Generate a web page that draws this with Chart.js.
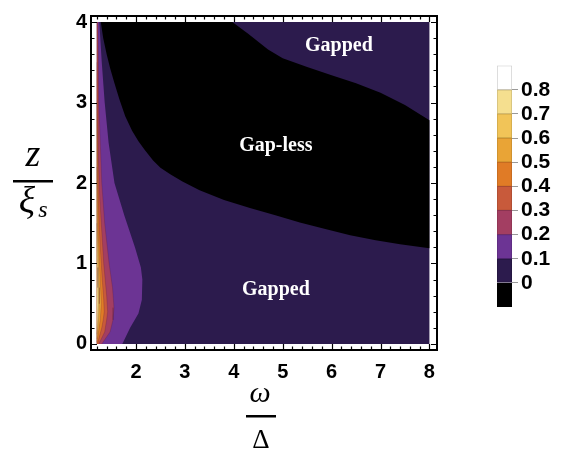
<!DOCTYPE html>
<html><head><meta charset="utf-8">
<script src="https://cdn.jsdelivr.net/npm/chart.js@4/dist/chart.umd.min.js"></script>
<style>
html,body{margin:0;padding:0;background:#fff;}
#wrap{position:relative;width:575px;height:455px;overflow:hidden;}
#main{position:absolute;left:0;top:0;}
#cbar{position:absolute;left:470px;top:50px;}
</style></head><body>
<div id="wrap"><canvas id="main" width="575" height="455"></canvas><canvas id="cbar" width="105" height="275"></canvas></div>
<script>
// ---- data ranges & ticks ----
const omegaRange = [1.2, 8];
const zRange = [0, 4];
const xTickLabels = [2, 3, 4, 5, 6, 7, 8];
const yTickLabels = [0, 1, 2, 3, 4];
const levelBounds = [-0.1, 0, 0.1, 0.2, 0.3, 0.4, 0.5, 0.6, 0.7, 0.8, 0.9];
const levelTicks = [0, 0.1, 0.2, 0.3, 0.4, 0.5, 0.6, 0.7, 0.8];
const levelTickLabels = ['0', '0.1', '0.2', '0.3', '0.4', '0.5', '0.6', '0.7', '0.8'];
const levelColors = ['#000000', '#2c1b4d', '#6c3494', '#a33e62', '#c85a3b', '#e07b26', '#e9a436', '#f1c458', '#f5df8f', '#ffffff'];
const levelEdge = ['#000000', '#23153d', '#5a2a7c', '#8a3350', '#a84a30', '#bd661f', '#c38a2c', '#c9a448', '#cbb978', '#cccccc'];

// ---- gap-less (value 0) region boundaries ----
const gaplessLowerW = [1.28, 1.33, 1.40, 1.47, 1.56, 1.66, 1.78, 1.92, 2.05, 2.18, 2.35, 2.50, 2.70, 2.95, 3.30, 3.80, 4.33, 4.85, 5.35, 5.85, 6.38, 6.90, 7.40, 8.00];
const gaplessLowerZ = [4.00, 3.80, 3.60, 3.43, 3.24, 3.04, 2.83, 2.65, 2.52, 2.41, 2.28, 2.19, 2.11, 2.02, 1.91, 1.79, 1.69, 1.60, 1.51, 1.43, 1.35, 1.29, 1.24, 1.19];
const gaplessUpperW = [3.97, 4.30, 4.70, 5.00, 5.50, 6.00, 6.50, 7.00, 7.50, 8.00];
const gaplessUpperZ = [4.00, 3.85, 3.66, 3.55, 3.44, 3.34, 3.24, 3.12, 2.97, 2.78];

// ---- contour curves on the left (outer edge of each level band) ----
const band01W = [1.25, 1.30, 1.36, 1.44, 1.56, 1.76, 1.98, 2.10, 2.13, 2.12, 2.05, 1.88, 1.72];
const band01Z = [4.00, 3.50, 3.00, 2.50, 2.00, 1.60, 1.20, 0.95, 0.80, 0.55, 0.38, 0.20, 0.00];
const band02W = [1.22, 1.24, 1.30, 1.36, 1.45, 1.52, 1.55, 1.53, 1.47, 1.30];
const band02Z = [4.00, 3.00, 2.00, 1.50, 1.00, 0.70, 0.45, 0.30, 0.15, 0.00];
const band03W = [1.21, 1.23, 1.26, 1.29, 1.34, 1.40, 1.42, 1.40, 1.36, 1.24];
const band03Z = [4.00, 2.30, 1.80, 1.50, 1.00, 0.60, 0.40, 0.30, 0.15, 0.00];
const band04W = [1.20, 1.22, 1.245, 1.27, 1.31, 1.34, 1.35, 1.33, 1.30, 1.21];
const band04Z = [3.50, 2.00, 1.50, 1.20, 0.80, 0.55, 0.40, 0.30, 0.20, 0.00];
const band05W = [1.20, 1.22, 1.24, 1.26, 1.28, 1.29, 1.27, 1.22, 1.20];
const band05Z = [3.00, 1.50, 1.20, 0.90, 0.65, 0.50, 0.30, 0.10, 0.02];
const band06W = [1.20, 1.215, 1.23, 1.245, 1.25, 1.235, 1.21, 1.20];
const band06Z = [2.20, 1.30, 1.00, 0.70, 0.50, 0.30, 0.15, 0.06];
const band07W = [1.20, 1.21, 1.22, 1.225, 1.215, 1.20];
const band07Z = [1.50, 0.95, 0.70, 0.50, 0.30, 0.12];

const annotationText = ['Gapped', 'Gap-less', 'Gapped'];
const annotationW = [6.15, 4.86, 4.86];
const annotationZ = [3.71, 2.46, 0.67];

// ---- build datasets ----
const pts = (w, z) => w.map((x, i) => ({x: x, y: z[i]}));
const datasets = [];
datasets.push({
  data: [{x: omegaRange[0], y: zRange[0]}, {x: omegaRange[1], y: zRange[0]}, {x: omegaRange[1], y: zRange[1]}, {x: omegaRange[0], y: zRange[1]}],
  showLine: true, fill: 'shape', backgroundColor: levelColors[1], borderWidth: 0, pointRadius: 0, order: 100
});
datasets.push({
  data: pts(gaplessLowerW, gaplessLowerZ).concat(pts(gaplessUpperW, gaplessUpperZ).reverse()),
  showLine: true, fill: 'shape', backgroundColor: levelColors[0], borderWidth: 0, pointRadius: 0, order: 90
});
const bands = [[band01W, band01Z], [band02W, band02Z], [band03W, band03Z], [band04W, band04Z], [band05W, band05Z], [band06W, band06Z], [band07W, band07Z]];
bands.forEach((b, k) => {
  const curve = pts(b[0], b[1]);
  const poly = curve.concat([{x: omegaRange[0], y: curve[curve.length - 1].y}, {x: omegaRange[0], y: curve[0].y}]);
  datasets.push({data: poly, showLine: true, fill: 'shape', backgroundColor: levelColors[k + 2], borderWidth: 0, pointRadius: 0, order: 80 - k});
  if (k > 0) datasets.push({data: curve, showLine: true, fill: false, borderColor: 'rgba(70,20,50,0.3)', borderWidth: 0.7, pointRadius: 0, order: 1});
});

const frameTicks = {
  id: 'frameTicks',
  afterDraw(chart) {
    const {ctx, chartArea: a, scales: {x, y}} = chart;
    ctx.save();
    ctx.strokeStyle = '#000';
    ctx.lineWidth = 1.2;
    for (let i = 0; i <= 34; i++) {
      const v = omegaRange[0] + i * 0.2;
      const major = Math.abs(v - Math.round(v)) < 1e-6;
      const len = major ? 6 : 3.5;
      const px = Math.round(x.getPixelForValue(v)) + 0.5;
      ctx.beginPath();
      ctx.moveTo(px, a.bottom); ctx.lineTo(px, a.bottom - len);
      ctx.moveTo(px, a.top); ctx.lineTo(px, a.top + len);
      ctx.stroke();
    }
    for (let i = 0; i <= 20; i++) {
      const v = zRange[0] + i * 0.2;
      const major = Math.abs(v - Math.round(v)) < 1e-6;
      const len = major ? 6 : 3.5;
      const py = Math.round(y.getPixelForValue(v)) + 0.5;
      ctx.beginPath();
      ctx.moveTo(a.left, py); ctx.lineTo(a.left + len, py);
      ctx.moveTo(a.right, py); ctx.lineTo(a.right - len, py);
      ctx.stroke();
    }
    ctx.lineWidth = 2;
    ctx.strokeRect(a.left, a.top, a.right - a.left, a.bottom - a.top);
    // annotations
    ctx.fillStyle = '#fff';
    ctx.font = 'bold 20px "Liberation Serif"';
    ctx.textAlign = 'center';
    ctx.textBaseline = 'middle';
    annotationText.forEach((t, i) => ctx.fillText(t, x.getPixelForValue(annotationW[i]), y.getPixelForValue(annotationZ[i])));
    // axis titles
    ctx.fillStyle = '#000';
    ctx.font = 'italic 30px "Liberation Serif"';
    ctx.fillText('ω', 260, 394);
    ctx.fillRect(246, 415, 30, 2.5);
    ctx.font = '27px "Liberation Serif"';
    ctx.fillText('Δ', 261, 441);
    ctx.font = 'italic 38px "Liberation Serif"';
    ctx.fillText('z', 33, 156);
    ctx.fillRect(13, 180, 40, 2.5);
    ctx.fillText('ξ', 27, 203);
    ctx.font = 'italic 24px "Liberation Serif"';
    ctx.fillText('s', 43, 211);
    ctx.restore();
  }
};

Chart.defaults.font.family = '"Liberation Sans", Arial, sans-serif';
new Chart(document.getElementById('main'), {
  type: 'scatter',
  data: {datasets: datasets},
  options: {
    responsive: false, animation: false, events: [],
    layout: {padding: {left: 0, right: 138, top: 6, bottom: 0}},
    plugins: {legend: {display: false}, tooltip: {enabled: false}},
    scales: {
      x: {type: 'linear', min: 1.08, max: 8.155,
        afterBuildTicks: s => { s.ticks = xTickLabels.map(v => ({value: v})); },
        ticks: {font: {weight: 'bold', size: 20}, color: '#000', padding: 10, maxRotation: 0, autoSkip: false},
        grid: {display: false, drawTicks: false}, border: {display: false},
        afterFit: s => { s.height = 105; }},
      y: {type: 'linear', min: -0.075, max: 4.075,
        afterBuildTicks: s => { s.ticks = yTickLabels.map(v => ({value: v})); },
        ticks: {font: {weight: 'bold', size: 20}, color: '#000', padding: 4, autoSkip: false},
        grid: {display: false, drawTicks: false}, border: {display: false},
        afterFit: s => { s.width = 91; }}
    }
  },
  plugins: [frameTicks]
});

new Chart(document.getElementById('cbar'), {
  type: 'bar',
  data: {labels: [''], datasets: levelColors.map((c, i) => ({
    data: [[levelBounds[i], levelBounds[i + 1]]], backgroundColor: c, borderColor: levelEdge[i],
    borderWidth: 1, borderSkipped: false, barPercentage: 1, categoryPercentage: 1, grouped: false
  }))},
  options: {
    responsive: false, animation: false, events: [],
    layout: {padding: {left: 27, top: 14, bottom: 18, right: 0}},
    plugins: {legend: {display: false}, tooltip: {enabled: false}},
    scales: {
      x: {display: false},
      y: {position: 'right', min: levelBounds[0], max: levelBounds[levelBounds.length - 1],
        afterBuildTicks: s => { s.ticks = levelTicks.map(v => ({value: v})); },
        ticks: {callback: (v, i) => levelTickLabels[i], font: {weight: 'bold', size: 21}, color: '#000', padding: 3, autoSkip: false},
        grid: {drawOnChartArea: false, drawTicks: true, tickLength: 6, color: '#999'},
        border: {display: false},
        afterFit: s => { s.width = 63; }}
    }
  }
});
</script>
</body></html>
